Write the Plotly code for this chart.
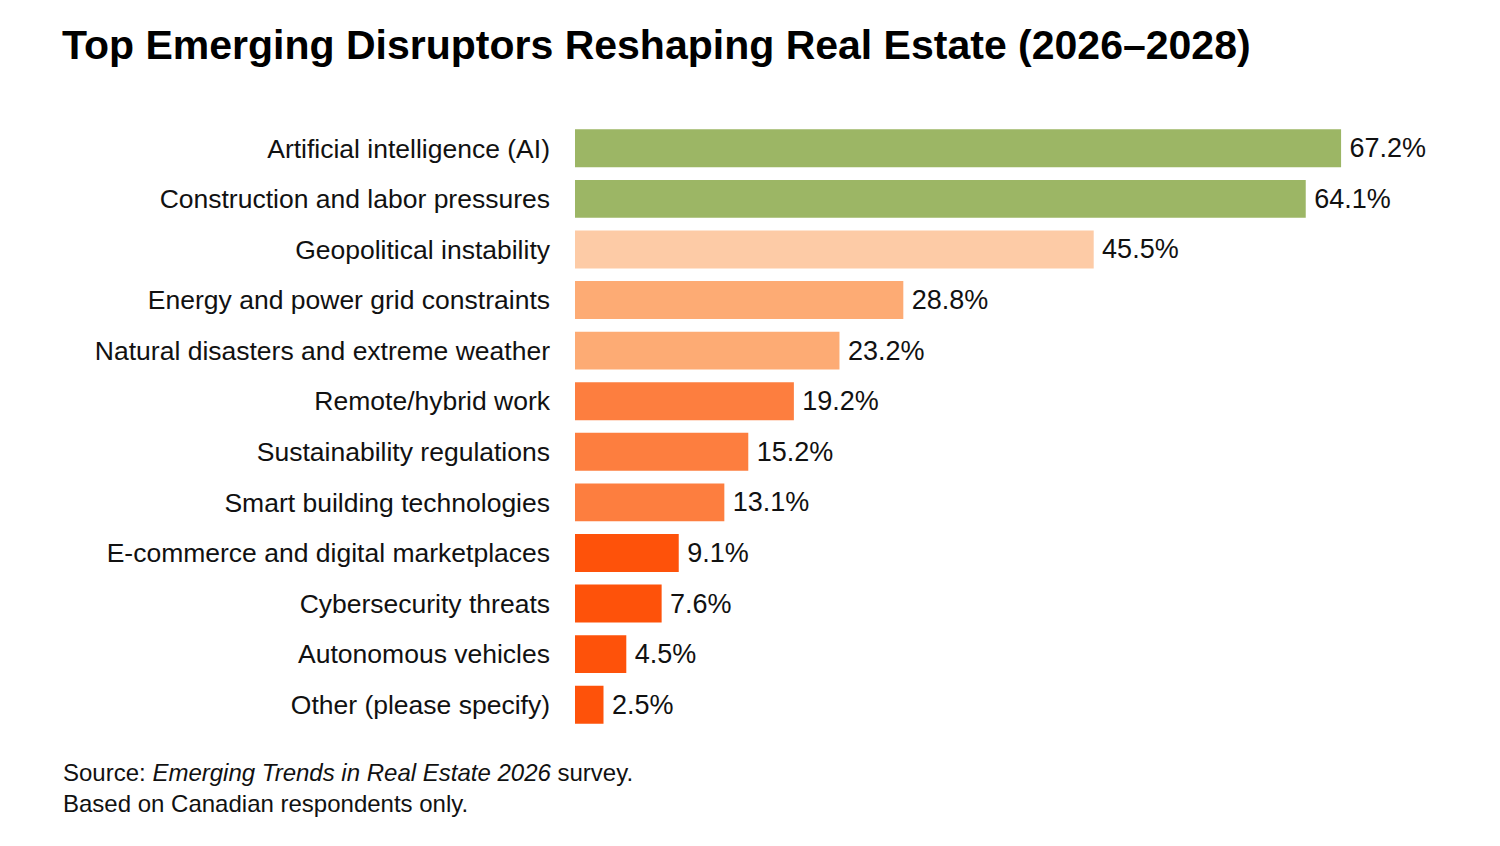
import plotly.graph_objects as go

categories = [
    "Artificial intelligence (AI)",
    "Construction and labor pressures",
    "Geopolitical instability",
    "Energy and power grid constraints",
    "Natural disasters and extreme weather",
    "Remote/hybrid work",
    "Sustainability regulations",
    "Smart building technologies",
    "E-commerce and digital marketplaces",
    "Cybersecurity threats",
    "Autonomous vehicles",
    "Other (please specify)",
]
values = [67.2, 64.1, 45.5, 28.8, 23.2, 19.2, 15.2, 13.1, 9.1, 7.6, 4.5, 2.5]
colors = [
    "#9CB665", "#9CB665", "#FDCBA6", "#FDAB74", "#FDAB74",
    "#FD7E3F", "#FD7E3F", "#FD7E3F", "#FE520A", "#FE520A", "#FE520A", "#FE520A",
]
value_labels = [f"{v:.1f}%" for v in values]

W, H = 1500, 846
L, R, T, B = 575, 13, 123, 116
FONT = "Liberation Sans, Arial, sans-serif"

fig = go.Figure(go.Bar(
    x=values,
    y=categories,
    orientation="h",
    marker=dict(color=colors, line=dict(width=0)),
    width=0.75,
    text=value_labels,
    textposition="outside",
    texttemplate="\u2009%{text}",
    textfont=dict(size=27, color="#111111", family=FONT),
    cliponaxis=False,
    hoverinfo="skip",
))

fig.update_layout(
    width=W, height=H,
    margin=dict(l=L, r=R, t=T, b=B),
    paper_bgcolor="white",
    plot_bgcolor="white",
    showlegend=False,
    font=dict(family=FONT, color="#111111"),
    title=dict(
        text="<b>Top Emerging Disruptors Reshaping Real Estate (2026–2028)</b>",
        xref="container", yref="container",
        x=62 / W, xanchor="left",
        y=1 - 45 / H, yanchor="middle",
        font=dict(size=41, color="#000000", family=FONT),
    ),
    xaxis=dict(
        range=[0, 80], visible=False, showgrid=False, zeroline=False, fixedrange=True,
    ),
    yaxis=dict(
        autorange="reversed",
        showgrid=False, zeroline=False, showline=False,
        ticks="", ticklabelstandoff=24,
        tickfont=dict(size=26.5, color="#111111", family=FONT),
    ),
)

plot_w = W - L - R
fig.add_annotation(
    xref="paper", yref="paper",
    x=(61 - L) / plot_w, xanchor="left",
    y=-(788 - (H - B)) / (H - T - B), yanchor="middle",
    text="Source: <i>Emerging Trends in Real Estate 2026</i> survey.<br>Based on Canadian respondents only.",
    showarrow=False, align="left",
    font=dict(size=24, color="#111111", family=FONT),
)

fig.write_html("out.html")
